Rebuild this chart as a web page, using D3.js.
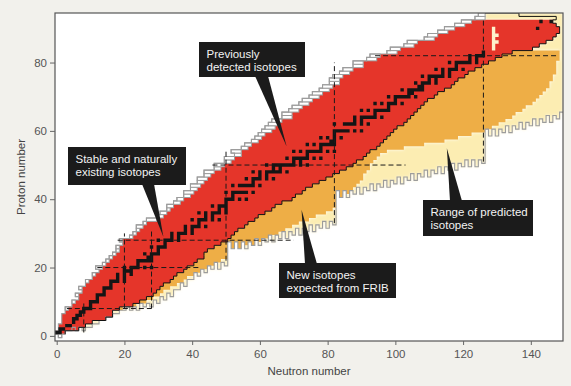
<!DOCTYPE html>
<html>
<head>
<meta charset="utf-8">
<script src="https://cdn.jsdelivr.net/npm/d3@7"></script>
<style>
  html, body { margin: 0; padding: 0; background: #f2f1ec; }
  svg { display: block; }
  text { font-family: "Liberation Sans", Arial, sans-serif; }
</style>
</head>
<body>
<svg id="chart" width="571" height="386"></svg>
<script>
// ---- Data: one entry per proton number Z = 0 … 94 ----
// First neutron number of the previously detected (red) isotopes in each row
const knownMinN = [
  2, 0, 1, 1, 2, 2, 2, 3, 4, 5,
  6, 7, 7, 8, 8, 9, 10, 11, 12, 13,
  14, 15, 16, 17, 18, 19, 19, 20, 20, 23,
  24, 25, 26, 27, 30, 32, 33, 34, 35, 37,
  38, 40, 41, 42, 43, 44, 45, 46, 47, 49,
  50, 52, 53, 55, 55, 57, 58, 60, 61, 62,
  64, 65, 66, 67, 70, 70, 72, 73, 75, 76,
  78, 79, 81, 82, 84, 84, 85, 87, 88, 91,
  91, 95, 96, 101, 102, 106, 107, 112, 113, 116,
  118, 121, 123, 127, 127
];
// Last neutron number of the previously detected isotopes in each row
const knownMaxN = [
  1, 2, 6, 8, 10, 14, 16, 16, 18, 22,
  24, 26, 28, 29, 30, 31, 33, 34, 35, 37,
  38, 40, 41, 43, 43, 44, 46, 48, 50, 51,
  52, 53, 55, 56, 58, 59, 61, 63, 64, 66,
  69, 70, 72, 73, 75, 77, 79, 81, 83, 85,
  87, 88, 90, 91, 92, 94, 95, 96, 97, 98,
  99, 100, 102, 103, 104, 105, 106, 107, 108, 109,
  111, 112, 114, 116, 117, 118, 120, 121, 123, 125,
  127, 129, 131, 134, 140, 142, 144, 146, 147, 148,
  148, 147, 146, 126, 126
];
// Predicted proton-rich limit (first bound neutron number) in each row
const dripMinN = [
  1, 0, 1, 1, 2, 2, 2, 3, 3, 5,
  5, 7, 6, 8, 7, 9, 9, 11, 11, 13,
  12, 14, 15, 16, 17, 18, 18, 20, 19, 22,
  23, 24, 24, 26, 27, 30, 31, 33, 33, 35,
  36, 38, 38, 40, 40, 42, 42, 44, 44, 47,
  47, 50, 50, 53, 52, 55, 56, 58, 59, 60,
  61, 62, 63, 64, 67, 67, 69, 70, 72, 73,
  75, 76, 78, 79, 81, 81, 82, 84, 85, 88,
  88, 92, 93, 98, 99, 103, 104, 109, 110, 113,
  115, 118, 120, 124, 125
];
// Last neutron number reachable at FRIB (orange) in each row
const fribMaxN = [
  1, 2, 6, 8, 10, 14, 16, 16, 19, 23,
  26, 28, 30, 31, 33, 35, 37, 38, 40, 42,
  44, 46, 48, 50, 51, 53, 55, 58, 60, 63,
  65, 67, 69, 71, 74, 76, 79, 81, 82, 83,
  84, 85, 86, 87, 88, 89, 90, 90, 91, 92,
  92, 93, 94, 95, 97, 102, 108, 114, 118, 122,
  126, 128, 130, 132, 134, 135, 137, 138, 140, 141,
  142, 143, 144, 145, 145, 146, 146, 147, 147, 147,
  147, 148, 148, 148, 140, 142, 144, 146, 147, 148,
  148, 147, 146, 126, 126
];
// Rows above the heaviest detected element that are still enclosed by the outline: [Z, first N, last N]
const ceilingRows = [[93, 127, 147], [94, 127, 136]];
// Isotopes inside the detected block that have not been seen: [N, Z]
const unseenCells = [[129, 84], [129, 85], [129, 86], [129, 87], [129, 88], [129, 89], [129, 90], [130, 86], [130, 88]];

// ---- Data: one entry per neutron number N = 0 … 149 ----
// Predicted neutron-rich limit: lowest bound Z for each N
const dripZ = [
  1, 0, 1, 2, 2, 3, 2, 3, 2, 3,
  3, 4, 4, 5, 5, 6, 6, 7, 7, 8,
  8, 9, 8, 9, 8, 10, 9, 10, 9, 11,
  10, 12, 11, 13, 12, 14, 14, 16, 15, 17,
  17, 19, 18, 20, 19, 21, 20, 22, 20, 22,
  21, 28, 26, 28, 26, 28, 26, 28, 27, 29,
  27, 29, 28, 30, 28, 30, 29, 31, 29, 31,
  30, 32, 30, 32, 31, 33, 31, 33, 32, 34,
  32, 34, 33, 43, 41, 43, 41, 43, 42, 44,
  42, 44, 43, 45, 43, 45, 44, 46, 44, 46,
  45, 47, 45, 47, 46, 48, 46, 48, 47, 49,
  47, 49, 48, 50, 48, 50, 49, 51, 49, 51,
  50, 52, 50, 52, 50, 52, 51, 61, 59, 61,
  59, 61, 60, 62, 60, 62, 61, 63, 61, 63,
  62, 64, 62, 64, 63, 65, 63, 65, 64, 66
];

// Stable and naturally occurring isotopes: [Z, neutron numbers]
const stableIsotopes = [
  [1, [0, 1]], [2, [1, 2]], [3, [3, 4]], [4, [5]], [5, [5, 6]], [6, [6, 7]], [7, [7, 8]],
  [8, [8, 9, 10]], [9, [10]], [10, [10, 11, 12]], [11, [12]], [12, [12, 13, 14]], [13, [14]],
  [14, [14, 15, 16]], [15, [16]], [16, [16, 17, 18, 20]], [17, [18, 20]], [18, [18, 20, 22]],
  [19, [20, 21, 22]], [20, [20, 22, 23, 24, 26, 28]], [21, [24]], [22, [24, 25, 26, 27, 28]],
  [23, [27, 28]], [24, [26, 28, 29, 30]], [25, [30]], [26, [28, 30, 31, 32]], [27, [32]],
  [28, [30, 32, 33, 34, 36]], [29, [34, 36]], [30, [34, 36, 37, 38, 40]], [31, [38, 40]],
  [32, [38, 40, 41, 42, 44]], [33, [42]], [34, [40, 42, 43, 44, 46, 48]], [35, [44, 46]],
  [36, [42, 44, 46, 47, 48, 50]], [37, [48, 50]], [38, [46, 48, 49, 50]], [39, [50]],
  [40, [50, 51, 52, 54, 56]], [41, [52]], [42, [50, 52, 53, 54, 55, 56, 58]],
  [44, [52, 54, 55, 56, 57, 58, 60]], [45, [58]], [46, [56, 58, 59, 60, 62, 64]], [47, [60, 62]],
  [48, [58, 60, 62, 63, 64, 65, 66, 68]], [49, [64, 66]], [50, [62, 64, 65, 66, 67, 68, 69, 70, 72, 74]],
  [51, [70, 72]], [52, [68, 70, 71, 72, 73, 74, 76, 78]], [53, [74]], [54, [70, 72, 74, 75, 76, 77, 78, 80, 82]],
  [55, [78]], [56, [74, 76, 78, 79, 80, 81, 82]], [57, [81, 82]], [58, [78, 80, 82, 84]], [59, [82]],
  [60, [82, 83, 84, 85, 86, 88, 90]], [62, [82, 85, 86, 87, 88, 90, 92]], [63, [88, 90]],
  [64, [88, 90, 91, 92, 93, 94, 96]], [65, [94]], [66, [90, 92, 94, 95, 96, 97, 98]], [67, [98]],
  [68, [94, 96, 98, 99, 100, 102]], [69, [100]], [70, [98, 100, 101, 102, 103, 104, 106]],
  [71, [104, 105]], [72, [102, 104, 105, 106, 107, 108]], [73, [107, 108]], [74, [106, 108, 109, 110, 112]],
  [75, [110, 112]], [76, [108, 110, 111, 112, 113, 114, 116]], [77, [114, 116]],
  [78, [112, 114, 116, 117, 118, 120]], [79, [118]], [80, [116, 118, 119, 120, 121, 122, 124]],
  [81, [122, 124]], [82, [122, 124, 125, 126]], [83, [126]], [90, [142]], [92, [143, 146]]
];

// Magic-number guide lines: [Z, from N, to N] and [N, from Z, to Z]
const magicRows = [[8, 3, 28], [20, 12, 42], [28, 18, 70], [50, 46, 103], [82, 94, 148]];
const magicColumns = [[8, 1, 10], [20, 8, 30], [28, 8, 31], [50, 22, 54], [82, 33, 80], [126, 51, 93]];

// Axis ticks and titles
const neutronTicks = [0, 20, 40, 60, 80, 100, 120, 140];
const protonTicks = [0, 20, 40, 60, 80];
const xTitle = "Neutron number";
const yTitle = "Proton number";

// Callout texts and the (N, Z) cell each one points at
const calloutText = [
  ["Previously", "detected isotopes"],
  ["Stable and naturally", "existing isotopes"],
  ["New isotopes", "expected from FRIB"],
  ["Range of predicted", "isotopes"]
];
const calloutTarget = [[67.9, 55.4], [31.5, 29.0], [72.3, 36.9], [115.2, 54.9]];

// ---- Layout ----
const W = 571, H = 386;
const plot = { left: 55, right: 563, top: 13, bottom: 341 };
const x = d3.scaleLinear().domain([-0.5, 149.5]).range([plot.left, plot.right]);
const y = d3.scaleLinear().domain([-1.5, 94.5]).range([plot.bottom, plot.top]);

const colors = {
  page: "#f2f1ec", yellow: "#fcedb2", orange: "#eeae46", red: "#e5352a",
  stable: "#151515", gray: "#9c9c9c", unseen: "#fdf2cc", ink: "#111"
};

const svg = d3.select("#chart");
svg.append("rect").attr("width", W).attr("height", H).attr("fill", colors.page);
svg.append("rect")
  .attr("x", plot.left).attr("y", plot.top)
  .attr("width", plot.right - plot.left).attr("height", plot.bottom - plot.top)
  .attr("fill", "#fff");

const defs = svg.append("defs");
defs.append("clipPath").attr("id", "plot-clip").append("rect")
  .attr("x", plot.left).attr("y", plot.top)
  .attr("width", plot.right - plot.left).attr("height", plot.bottom - plot.top);
defs.append("filter").attr("id", "soft")
  .attr("x", "-5%").attr("y", "-5%").attr("width", "110%").attr("height", "110%")
  .append("feGaussianBlur").attr("stdDeviation", 1.4);

const layer = svg.append("g").attr("clip-path", "url(#plot-clip)");

// Row runs [n0, n1, z] turned into one path per colour
function runsPath(runs) {
  return runs.map(([n0, n1, z]) =>
    `M${x(n0 - 0.5)},${y(z + 0.5)}H${x(n1 + 0.5)}V${y(z - 0.5)}H${x(n0 - 0.5)}Z`).join("");
}
// Contiguous runs of bound cells (above the neutron-rich limit) between two N values
function boundRuns(z, from, to) {
  const runs = [];
  let start = null;
  for (let n = from; n <= Math.min(to, dripZ.length - 1); n++) {
    const ok = dripZ[n] <= z;
    if (ok && start === null) start = n;
    if (!ok && start !== null) { runs.push([start, n - 1, z]); start = null; }
  }
  if (start !== null) runs.push([start, Math.min(to, dripZ.length - 1), z]);
  return runs;
}

const protonNumbers = d3.range(knownMinN.length);

// Predicted range (yellow), soft-edged
const yellowRuns = protonNumbers.flatMap(z =>
  boundRuns(z, Math.max(knownMaxN[z], fribMaxN[z]) + 1, 149));
layer.append("g").attr("filter", "url(#soft)")
  .append("path").attr("d", runsPath(yellowRuns)).attr("fill", colors.yellow);

// Expected from FRIB (orange)
const orangeRuns = protonNumbers.flatMap(z => boundRuns(z, knownMaxN[z] + 1, fribMaxN[z]));
layer.append("path").attr("d", runsPath(orangeRuns)).attr("fill", colors.orange);

// Previously detected (red)
const redRuns = protonNumbers
  .filter(z => knownMaxN[z] >= knownMinN[z])
  .map(z => [knownMinN[z], knownMaxN[z], z]);
layer.append("path").attr("d", runsPath(redRuns)).attr("fill", colors.red);

// Gaps inside the detected block
layer.append("path")
  .attr("d", runsPath(unseenCells.map(([n, z]) => [n, n, z])))
  .attr("fill", colors.unseen);

// Proton-rich bound but undetected cells, boxed in grey
layer.append("g").selectAll("rect")
  .data(protonNumbers.filter(z => dripMinN[z] < knownMinN[z]))
  .join("rect")
  .attr("x", z => x(dripMinN[z] - 0.5))
  .attr("y", z => y(z + 0.5))
  .attr("width", z => x(knownMinN[z] - 0.5) - x(dripMinN[z] - 0.5))
  .attr("height", z => y(z - 0.5) - y(z + 0.5))
  .attr("fill", "#fff")
  .attr("stroke", colors.gray).attr("stroke-width", 1);

const stepLine = d3.line().x(d => x(d[0])).y(d => y(d[1]));

// Proton-rich predicted limit
const protonEdge = protonNumbers.flatMap(z => [[dripMinN[z] - 0.5, z - 0.5], [dripMinN[z] - 0.5, z + 0.5]]);
layer.append("path").attr("d", stepLine(protonEdge))
  .attr("fill", "none").attr("stroke", colors.gray).attr("stroke-width", 1.1);

// Neutron-rich predicted limit (odd–even zigzag)
const neutronEdge = dripZ.flatMap((z, n) => [[n - 0.5, z - 0.5], [n + 0.5, z - 0.5]]);
layer.append("path").attr("d", stepLine(neutronEdge))
  .attr("fill", "none").attr("stroke", colors.gray).attr("stroke-width", 1.1);

// Outline round the detected block on the neutron-rich side and over the top
const ceilingMap = new Map(ceilingRows.map(r => [r[0], r]));
const outlinePts = [];
protonNumbers.filter(z => z >= 1).forEach(z => {
  const edge = ceilingMap.has(z) ? ceilingMap.get(z)[2] : knownMaxN[z];
  outlinePts.push([edge + 0.5, z - 0.5], [edge + 0.5, z + 0.5]);
});
const topRow = ceilingRows[ceilingRows.length - 1];
outlinePts.push([topRow[1] - 0.5, topRow[0] + 0.5]);
layer.append("path").attr("d", stepLine(outlinePts))
  .attr("fill", "none").attr("stroke", colors.ink).attr("stroke-width", 1);

// Stable isotopes (black)
const stableRuns = stableIsotopes.flatMap(([z, ns]) => ns.map(n => [n, n, z]));
layer.append("path").attr("d", runsPath(stableRuns)).attr("fill", colors.stable);

// Magic-number dashed lines
const dashes = layer.append("g")
  .attr("stroke", "#1a1a1a").attr("stroke-width", 1).attr("stroke-dasharray", "5,3").attr("fill", "none");
magicRows.forEach(([z, n0, n1]) => dashes.append("line")
  .attr("x1", x(n0)).attr("x2", x(n1)).attr("y1", y(z)).attr("y2", y(z)));
magicColumns.forEach(([n, z0, z1]) => dashes.append("line")
  .attr("x1", x(n)).attr("x2", x(n)).attr("y1", y(z0)).attr("y2", y(z1)));

// Frame
svg.append("rect")
  .attr("x", plot.left).attr("y", plot.top)
  .attr("width", plot.right - plot.left).attr("height", plot.bottom - plot.top)
  .attr("fill", "none").attr("stroke", "#555").attr("stroke-width", 1.2);

// Axes
const xAxis = svg.append("g").attr("transform", `translate(0,${plot.bottom})`)
  .call(d3.axisBottom(x).tickValues(neutronTicks).tickSize(4).tickPadding(5).tickSizeOuter(0));
const yAxis = svg.append("g").attr("transform", `translate(${plot.left},0)`)
  .call(d3.axisLeft(y).tickValues(protonTicks).tickSize(5).tickPadding(3).tickSizeOuter(0));
[xAxis, yAxis].forEach(a => {
  a.select(".domain").remove();
  a.selectAll(".tick line").attr("stroke", "#666");
  a.selectAll(".tick text").attr("fill", "#555").style("font-size", "11.5px")
    .style("font-family", '"Liberation Sans", Arial, sans-serif');
});

svg.append("text").attr("x", (plot.left + plot.right) / 2).attr("y", 375)
  .attr("text-anchor", "middle").attr("fill", "#444").style("font-size", "11.5px").text(xTitle);
svg.append("text").attr("transform", `translate(25,${(plot.top + plot.bottom) / 2}) rotate(-90)`)
  .attr("text-anchor", "middle").attr("fill", "#444").style("font-size", "11.5px").text(yTitle);

// Callouts: box [x, y, w, h] and the span of the pointer's base on the box edge
const calloutLayout = [
  { box: [199, 42, 106, 35], base: [255, 268], edge: "bottom" },
  { box: [68, 147, 118, 38], base: [142, 154], edge: "bottom" },
  { box: [279, 263, 117, 35], base: [305, 317], edge: "top" },
  { box: [423, 200, 110, 36], base: [450, 462], edge: "top" }
];
const callouts = svg.append("g");
calloutLayout.forEach((c, i) => {
  const [bx, by, bw, bh] = c.box;
  const baseY = c.edge === "bottom" ? by + bh - 1 : by + 1;
  const [tn, tz] = calloutTarget[i];
  callouts.append("polygon")
    .attr("points", [[c.base[0], baseY], [c.base[1], baseY], [x(tn), y(tz)]].map(p => p.join(",")).join(" "))
    .attr("fill", "#1b1b1b");
  callouts.append("rect").attr("x", bx).attr("y", by).attr("width", bw).attr("height", bh).attr("fill", "#1b1b1b");
  calloutText[i].forEach((line, k) => callouts.append("text")
    .attr("x", bx + 7.5).attr("y", by + 15.8 + k * 13.4)
    .attr("fill", "#f3f3f3").style("font-size", "11.5px").text(line));
});
</script>
</body>
</html>
